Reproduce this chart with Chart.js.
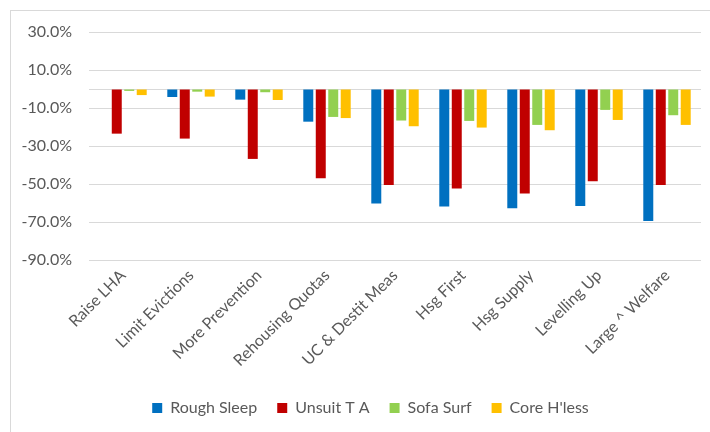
<!DOCTYPE html>
<html>
<head>
<meta charset="utf-8">
<script src="https://cdn.jsdelivr.net/npm/chart.js@4"></script>
<style>
    html, body { margin: 0; padding: 0; background: #fff; }
    #wrap { position: relative; width: 710px; height: 432px; }
    #frame {
        position: absolute; left: 10px; top: 10px; width: 720px; height: 440px;
        border-left: 1px solid #d9d9d9; border-top: 1px solid #d9d9d9;
        pointer-events: none;
    }
</style>
</head>
<body>
<div id="wrap">
    <canvas id="chart" width="710" height="432"></canvas>
    <div id="frame"></div>
</div>
<script>
// categories and series (percent change)
const categories = ['Raise LHA', 'Limit Evictions', 'More Prevention', 'Rehousing Quotas',
    'UC & Destit Meas', 'Hsg First', 'Hsg Supply', 'Levelling Up', 'Large ^ Welfare'];
const roughSleep = [0, -4.2, -5.6, -17.2, -60.3, -61.9, -62.8, -61.6, -69.5];
const unsuitTA = [-23.5, -26.1, -36.8, -47.0, -50.5, -52.4, -55.0, -48.6, -50.5];
const sofaSurf = [-1.0, -1.4, -1.7, -14.7, -16.6, -16.8, -18.9, -11.0, -13.8];
const coreHless = [-3.2, -4.0, -5.8, -15.3, -19.6, -20.3, -21.7, -16.3, -18.9];
const yTicks = [30, 10, -10, -30, -50, -70, -90];

const textColor = '#595959';
const gridColor = '#d9d9d9';
const fontFamily = 'Lato, "Open Sans", sans-serif';

const makeSet = (label, data, color) => ({
    label: label,
    data: data,
    backgroundColor: color,
    borderWidth: 0,
    categoryPercentage: 0.734,
    barPercentage: 0.8
});

// legend in the original sits a bit right of the canvas centre
const shiftLegend = {
    id: 'shiftLegend',
    afterLayout(chart) {
        const lg = chart.legend;
        if (lg) { lg.left += 20; lg.right += 20; }
    }
};

new Chart(document.getElementById('chart'), {
    type: 'bar',
    data: {
        labels: categories,
        datasets: [
            makeSet('Rough Sleep', roughSleep, '#0070C0'),
            makeSet('Unsuit T A', unsuitTA, '#C00000'),
            makeSet('Sofa Surf', sofaSurf, '#92D050'),
            makeSet("Core H'less", coreHless, '#FFC000')
        ]
    },
    plugins: [shiftLegend],
    options: {
        responsive: false,
        animation: false,
        layout: { padding: { top: 32, right: 9, bottom: 6, left: 0 } },
        plugins: {
            tooltip: { enabled: false },
            legend: {
                position: 'bottom',
                labels: {
                    color: textColor,
                    font: { family: fontFamily, size: 16 },
                    boxWidth: 10,
                    boxHeight: 10,
                    padding: 20
                }
            }
        },
        scales: {
            x: {
                grid: { display: false, drawTicks: false },
                border: { display: false },
                ticks: {
                    color: textColor,
                    font: { family: fontFamily, size: 16 },
                    maxRotation: 45,
                    minRotation: 45,
                    padding: 6
                },
                afterFit: scale => { scale.height = 120; }
            },
            y: {
                min: -90,
                max: 30,
                afterBuildTicks: scale => {
                    scale.ticks = yTicks.concat([0]).map(v => ({ value: v }));
                },
                grid: { color: gridColor, lineWidth: 1, drawTicks: false },
                border: { display: false },
                ticks: {
                    color: textColor,
                    font: { family: fontFamily, size: 16 },
                    padding: 17,
                    callback: v => (v === 0 ? '' : v.toFixed(1) + '%')
                },
                afterFit: scale => { scale.width = 89; }
            }
        }
    }
});
</script>
</body>
</html>
